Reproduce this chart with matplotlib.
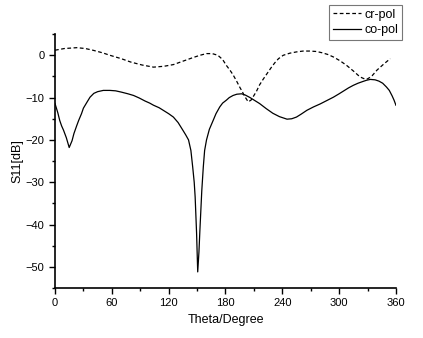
import matplotlib
matplotlib.use("Agg")
import matplotlib.pyplot as plt
from matplotlib.ticker import MultipleLocator

plt.rcParams['font.family'] = ['Liberation Sans', 'DejaVu Sans']

theta_cr = [0, 10, 23, 32, 40, 50, 58, 70, 80, 92, 104, 115, 125, 135, 145, 153, 160, 166, 172,
            177, 181, 185, 188, 192, 195, 198, 200, 204, 207, 209, 213, 216, 220, 224, 228, 232,
            236, 241, 248, 255, 262, 269, 276, 282, 288, 294, 301, 308, 315, 322, 326, 329, 332,
            335, 340, 347, 354]
cr_pol = [1.2, 1.6, 1.8, 1.6, 1.2, 0.6, 0.0, -0.8, -1.6, -2.3, -2.8, -2.6, -2.2, -1.4, -0.6, 0.0, 0.4, 0.4, 0.0,
          -1.0, -2.4, -3.6, -4.6, -6.2, -7.5, -8.7, -9.6, -11.0, -10.6, -9.9, -8.4, -7.0, -5.6, -4.3, -3.0, -1.8,
          -0.8, 0.0, 0.5, 0.8, 1.0, 1.0, 0.9, 0.6, 0.2, -0.4, -1.3, -2.4, -3.7, -5.1, -5.5, -5.7, -5.3,
          -4.8, -3.5, -2.1, -0.8]

theta_co = [0, 3, 5, 7, 9, 12, 15, 18, 20, 23, 25, 28, 30, 34, 37, 41, 45, 51, 58, 64, 70, 77, 83,
            89, 95, 100, 104, 110, 115, 120, 125, 130, 135, 138, 141, 143.5, 145.4, 147, 148, 149.5,
            150.7, 152, 153, 155, 156.6, 158, 160, 163, 167, 170, 174, 177, 181, 184, 188, 192, 197,
            201, 206, 211, 216, 223, 230, 237, 245, 250, 255, 260, 266, 273, 280, 287, 294, 300, 305,
            310, 315, 320, 325, 329, 333, 338, 342, 346, 350, 353, 356, 358, 360]
co_pol = [-11.4, -13.6, -15.4, -16.7, -17.7, -19.5, -21.8, -20.2, -18.5, -16.6, -15.4, -13.8, -12.5, -11.0, -9.9, -9.0, -8.6, -8.3, -8.3, -8.4, -8.7, -9.1, -9.5,
          -10.1, -10.8, -11.3, -11.8, -12.4, -13.1, -13.8, -14.6, -15.9, -17.7, -18.8, -20.0, -22.5, -26.4, -30.0, -33.5, -42.0,
          -51.2, -46.5, -41.4, -32.0, -26.4, -22.5, -20.0, -17.5, -15.4, -13.8, -12.2, -11.3, -10.6, -10.0, -9.5, -9.2, -9.1,
          -9.4, -10.0, -10.7, -11.4, -12.6, -13.7, -14.5, -15.1, -15.0, -14.6, -13.9, -13.0, -12.2, -11.5, -10.7, -9.9, -9.1, -8.4,
          -7.7, -7.1, -6.6, -6.2, -5.9, -5.7, -5.8, -6.1, -6.6, -7.5, -8.3, -9.6, -10.6, -11.8]

x_ticks = [0, 60, 120, 180, 240, 300, 360]
y_ticks = [0, -10, -20, -30, -40, -50]

fig = plt.figure(figsize=(4.23, 3.38), dpi=100)
ax = fig.add_axes([0.130, 0.148, 0.806, 0.751])
l1, = ax.plot(theta_cr, cr_pol, color='black', lw=0.9, linestyle=(0, (3, 2)), label='cr-pol')
l2, = ax.plot(theta_co, co_pol, color='black', lw=0.9, label='co-pol')

ax.set_xlim(0, 360)
ax.set_ylim(-55, 5)
ax.set_xticks(x_ticks)
ax.set_yticks(y_ticks)
ax.xaxis.set_minor_locator(MultipleLocator(30))
ax.yaxis.set_minor_locator(MultipleLocator(5))
ax.spines['top'].set_visible(False)
ax.spines['right'].set_visible(False)
ax.spines['left'].set_linewidth(1.2)
ax.spines['bottom'].set_linewidth(1.2)
ax.tick_params(which='major', direction='out', length=4, width=1, labelsize=8)
ax.tick_params(which='minor', direction='out', length=2.5, width=1)
ax.set_xlabel('Theta/Degree', fontsize=9, labelpad=4)
ax.set_ylabel('S11[dB]', fontsize=9, labelpad=2)

leg = fig.legend(handles=[l1, l2], loc='upper right', bbox_to_anchor=(402/423, 1 - 5/338),
                 fontsize=9, frameon=True, fancybox=False, edgecolor='#555555',
                 handlelength=2.2, handletextpad=0.3, borderpad=0.3, labelspacing=0.25,
                 borderaxespad=0)
leg.get_frame().set_linewidth(0.8)

fig.savefig('out.png', dpi=100)
